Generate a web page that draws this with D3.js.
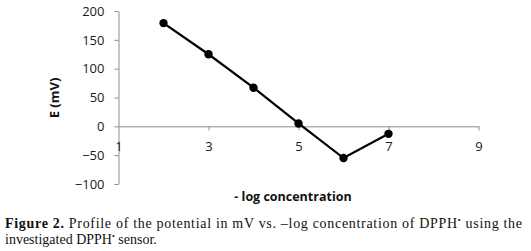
<!DOCTYPE html>
<html><head><meta charset="utf-8">
<script src="https://cdn.jsdelivr.net/npm/d3@7"></script>
<style>body{margin:0;background:#fff}svg{display:block}</style>
</head><body>
<script>
const xValues = [2, 3, 4, 5, 6, 7];
const yValues = [179, 125, 67, 5, -55, -13];
const xTicks = [1, 3, 5, 7, 9];
const yTicks = [-100, -50, 0, 50, 100, 150, 200];
const xTitle = "- log concentration";
const yTitle = "E (mV)";

const W = 531, H = 251;
const svg = d3.select("body").append("svg").attr("width", W).attr("height", H);
const x = d3.scaleLinear().domain([1, 9]).range([118.5, 478.5]);
const y = d3.scaleLinear().domain([-100, 200]).range([184, 11]);
const axisColor = "#8c8c8c";
const tickFont = "'Open Sans', sans-serif";

// y axis
const ya = svg.append("g").attr("transform", `translate(${x(1)},0)`)
  .call(d3.axisLeft(y).tickValues(yTicks).tickSize(4).tickSizeOuter(0).tickPadding(10));
ya.select(".domain").attr("stroke", axisColor);
ya.selectAll(".tick line").attr("stroke", axisColor);
ya.selectAll(".tick text").attr("font-family", tickFont).attr("font-size", 13).attr("fill", "#1a1a1a");

// x axis at y=0
const xa = svg.append("g").attr("transform", `translate(0,${y(0)})`)
  .call(d3.axisBottom(x).tickValues(xTicks).tickSize(4).tickSizeOuter(0).tickPadding(11));
xa.select(".domain").attr("stroke", axisColor);
xa.selectAll(".tick line").attr("stroke", axisColor).attr("display", d => d === 1 ? "none" : null);
xa.selectAll(".tick text").attr("font-family", tickFont).attr("font-size", 13).attr("fill", "#1a1a1a");

// line
const pts = xValues.map((v, i) => [v, yValues[i]]);
svg.append("path").datum(pts)
  .attr("d", d3.line().x(d => x(d[0])).y(d => y(d[1])))
  .attr("fill", "none").attr("stroke", "#000").attr("stroke-width", 2.2);
svg.selectAll("circle.pt").data(pts).enter().append("circle")
  .attr("cx", d => x(d[0])).attr("cy", d => y(d[1])).attr("r", 4.2).attr("fill", "#000");

// axis titles
svg.append("text").attr("transform", `translate(59,98) rotate(-90)`)
  .attr("text-anchor", "middle").attr("font-family", tickFont).attr("font-weight", "bold")
  .attr("font-size", 13).attr("fill", "#111").text(yTitle);
svg.append("text").attr("x", 293).attr("y", 201)
  .attr("text-anchor", "middle").attr("font-family", tickFont).attr("font-weight", "bold")
  .attr("font-size", 12.5).attr("fill", "#111").text(xTitle);

// caption
const serif = "'Liberation Serif', 'Times New Roman', serif";
const c1 = svg.append("text").attr("x", 5).attr("y", 228).attr("font-family", serif)
  .attr("font-size", 14).attr("fill", "#111")
  .attr("textLength", 517).attr("lengthAdjust", "spacing");
c1.append("tspan").attr("font-weight", "bold").text("Figure 2.");
c1.append("tspan").text(" Profile of the potential in mV vs. \u2013log concentration of DPPH");
c1.append("tspan").attr("font-size", 8).attr("dy", -5).text("\u2022");
c1.append("tspan").attr("dy", 5).text(" using the");
const c2 = svg.append("text").attr("x", 5).attr("y", 244).attr("font-family", serif)
  .attr("font-size", 14).attr("fill", "#111");
c2.append("tspan").text("investigated DPPH");
c2.append("tspan").attr("font-size", 8).attr("dy", -5).text("\u2022");
c2.append("tspan").attr("dy", 5).text(" sensor.");
</script>
</body></html>
